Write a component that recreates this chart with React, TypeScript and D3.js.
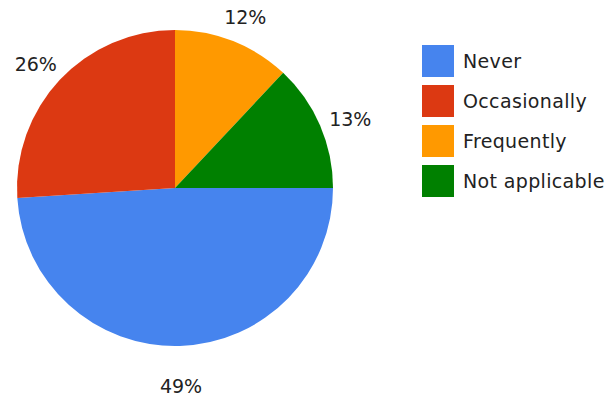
import React from "react";
import * as d3 from "d3";

const categories = ["Never", "Occasionally", "Frequently", "Not applicable"];
const values = [49, 26, 12, 13];
const colors = ["#4684ee", "#dc3912", "#ff9900", "#008000"];

const W = 609;
const H = 405;
const cx = 175;
const cy = 188;
const R = 158;
const LR = 191;
const FONT = "'DejaVu Sans', Verdana, sans-serif";

export default function App() {
  const pie = d3
    .pie<number>()
    .sort(null)
    .startAngle(Math.PI / 2)
    .endAngle(Math.PI / 2 + 2 * Math.PI)
    .value((d) => d);
  const arcs = pie(values);
  const arc = d3.arc<d3.PieArcDatum<number>>().innerRadius(0).outerRadius(R);
  const total = d3.sum(values);
  const legendY = d3.scaleBand<string>().domain(categories).range([45, 205]).paddingInner(0);

  return (
    <svg
      width={W}
      height={H}
      style={{ position: "absolute", left: 0, top: 0, background: "#fff" }}
      fontFamily={FONT}
    >
      <g transform={`translate(${cx},${cy})`}>
        {arcs.map((a, i) => (
          <path key={i} d={arc(a) || ""} fill={colors[i]} />
        ))}
        {arcs.map((a, i) => {
          const mid = (a.startAngle + a.endAngle) / 2;
          const x = LR * Math.sin(mid);
          const y = -LR * Math.cos(mid) + 7;
          return (
            <text
              key={i}
              x={x}
              y={y}
              textAnchor="middle"
              dominantBaseline="central"
              fontSize={19}
              fill="#222"
            >
              {Math.round((values[i] / total) * 100)}%
            </text>
          );
        })}
      </g>
      {categories.map((c, i) => {
        const y0 = legendY(c) as number;
        return (
          <g key={c}>
            <rect x={422} y={y0} width={32} height={32} fill={colors[i]} />
            <text
              x={463}
              y={y0 + 16}
              dominantBaseline="central"
              fontSize={19}
              letterSpacing={0.35}
              fill="#222"
            >
              {c}
            </text>
          </g>
        );
      })}
    </svg>
  );
}
